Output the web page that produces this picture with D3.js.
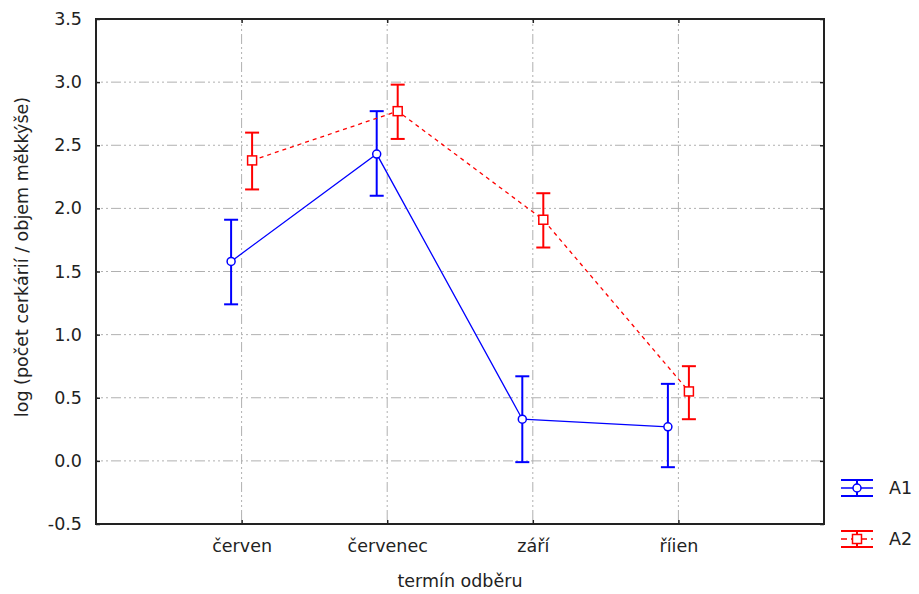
<!DOCTYPE html>
<html><head><meta charset="utf-8">
<script src="https://cdn.jsdelivr.net/npm/d3@7"></script>
<style>body{margin:0;background:#fff}svg{display:block}text{font-family:"DejaVu Sans",Verdana,sans-serif;fill:#222}</style>
</head><body>
<svg id="c" width="919" height="594"></svg>
<script>
const categories = ["červen","červenec","září","říien"];
const seriesNames = ["A1","A2"];
const a1Mean = [1.58, 2.43, 0.33, 0.27];
const a1Low  = [1.24, 2.10, -0.01, -0.05];
const a1High = [1.91, 2.77, 0.67, 0.61];
const a2Mean = [2.38, 2.77, 1.91, 0.55];
const a2Low  = [2.15, 2.55, 1.69, 0.33];
const a2High = [2.60, 2.98, 2.12, 0.75];
const yTicks = [-0.5,0,0.5,1,1.5,2,2.5,3,3.5];
const yTickLabels = ["-0.5","0.0","0.5","1.0","1.5","2.0","2.5","3.0","3.5"];

const FONT = "'DejaVu Sans',Verdana,sans-serif";
const FS = 17.5;
const svg = d3.select("#c");
const L=96,R=824,T=19,B=524;
const x = d3.scaleLinear().domain([-1, categories.length]).range([L,R]);
const y = d3.scaleLinear().domain([-0.5,3.5]).range([B,T]);
const gridDash = "2,3,2,3,2,3,10,3";

// grid
svg.append("g").selectAll("line").data(yTicks.filter(v=>v>-0.5&&v<3.5)).join("line")
  .attr("x1",L).attr("x2",R).attr("y1",d=>y(d)).attr("y2",d=>y(d))
  .attr("stroke","#b0b0b0").attr("stroke-dasharray",gridDash);
svg.append("g").selectAll("line").data(categories.map((c,i)=>i)).join("line")
  .attr("y1",T).attr("y2",B).attr("x1",d=>x(d)).attr("x2",d=>x(d))
  .attr("stroke","#b0b0b0").attr("stroke-dasharray",gridDash);

// axes (inward ticks on all sides)
const yl = svg.append("g").attr("transform",`translate(${L},0)`)
  .call(d3.axisLeft(y).tickValues(yTicks).tickFormat((d,i)=>yTickLabels[i]).tickSizeInner(-4).tickSizeOuter(0).tickPadding(14));
const yr = svg.append("g").attr("transform",`translate(${R},0)`)
  .call(d3.axisRight(y).tickValues(yTicks).tickFormat("").tickSizeInner(-4).tickSizeOuter(0));
const xb = svg.append("g").attr("transform",`translate(0,${B})`)
  .call(d3.axisBottom(x).tickValues(categories.map((c,i)=>i)).tickFormat(i=>categories[i]).tickSizeInner(-4).tickSizeOuter(0).tickPadding(16));
const xt = svg.append("g").attr("transform",`translate(0,${T})`)
  .call(d3.axisTop(x).tickValues(categories.map((c,i)=>i)).tickFormat("").tickSizeInner(-4).tickSizeOuter(0));
[yl,yr,xb,xt].forEach(g=>{
  g.selectAll(".domain").remove();
  g.selectAll(".tick line").attr("stroke","#222").attr("stroke-width",1.5);
  g.selectAll("text").attr("font-size",FS).attr("fill","#222").style("font-family",FONT);
});
svg.append("rect").attr("x",L).attr("y",T).attr("width",R-L).attr("height",B-T)
  .attr("fill","none").attr("stroke","#222").attr("stroke-width",2);

// titles
svg.append("text").attr("x",(L+R)/2).attr("y",587).attr("text-anchor","middle").attr("font-size",FS).text("termín odběru");
svg.append("text").attr("transform",`translate(28,257) rotate(-90)`).attr("text-anchor","middle").attr("font-size",FS)
  .text("log (počet cerkárií / objem měkkýše)");

// series
const series = [
  {name:seriesNames[0], mean:a1Mean, lo:a1Low, hi:a1High, color:"#0000ff", off:-10.5, dash:null, shape:"circle"},
  {name:seriesNames[1], mean:a2Mean, lo:a2Low, hi:a2High, color:"#ff0000", off:10.5, dash:"4,4", shape:"square"}
];
series.forEach(s=>{
  const pts = s.mean.map((m,i)=>({i,m,lo:s.lo[i],hi:s.hi[i]}));
  const g = svg.append("g");
  g.append("path").datum(pts)
    .attr("d", d3.line().x(d=>x(d.i)+s.off).y(d=>y(d.m)))
    .attr("fill","none").attr("stroke",s.color).attr("stroke-width",1.3)
    .attr("stroke-dasharray",s.dash);
  const eb = g.selectAll("g.eb").data(pts).join("g");
  eb.append("line").attr("x1",d=>x(d.i)+s.off).attr("x2",d=>x(d.i)+s.off)
    .attr("y1",d=>y(d.lo)).attr("y2",d=>y(d.hi)).attr("stroke",s.color).attr("stroke-width",2);
  ["lo","hi"].forEach(k=>{
    eb.append("line").attr("x1",d=>x(d.i)+s.off-7).attr("x2",d=>x(d.i)+s.off+7)
      .attr("y1",d=>y(d[k])).attr("y2",d=>y(d[k])).attr("stroke",s.color).attr("stroke-width",2);
  });
  if(s.shape==="circle"){
    eb.append("circle").attr("cx",d=>x(d.i)+s.off).attr("cy",d=>y(d.m)).attr("r",4)
      .attr("fill","#fff").attr("stroke",s.color).attr("stroke-width",1.5);
  } else {
    eb.append("rect").attr("x",d=>x(d.i)+s.off-4.5).attr("y",d=>y(d.m)-4.5).attr("width",9).attr("height",9)
      .attr("fill","#fff").attr("stroke",s.color).attr("stroke-width",1.5);
  }
});

// legend
series.forEach((s,k)=>{
  const cy = 488 + k*51, cx = 857;
  const g = svg.append("g");
  g.append("line").attr("x1",cx-16).attr("x2",cx+16).attr("y1",cy-8).attr("y2",cy-8).attr("stroke",s.color).attr("stroke-width",2);
  g.append("line").attr("x1",cx-16).attr("x2",cx+16).attr("y1",cy+8).attr("y2",cy+8).attr("stroke",s.color).attr("stroke-width",2);
  g.append("line").attr("x1",cx).attr("x2",cx).attr("y1",cy-8).attr("y2",cy+8).attr("stroke",s.color).attr("stroke-width",2);
  g.append("line").attr("x1",cx-16).attr("x2",cx+16).attr("y1",cy).attr("y2",cy).attr("stroke",s.color).attr("stroke-width",1.5).attr("stroke-dasharray",s.dash?"6,4":null);
  if(s.shape==="circle") g.append("circle").attr("cx",cx).attr("cy",cy).attr("r",4).attr("fill","#fff").attr("stroke",s.color).attr("stroke-width",1.5);
  else g.append("rect").attr("x",cx-4.5).attr("y",cy-4.5).attr("width",9).attr("height",9).attr("fill","#fff").attr("stroke",s.color).attr("stroke-width",1.5);
  g.append("text").attr("x",889).attr("y",cy+6).attr("font-size",FS).text(s.name);
});
</script>
</body></html>
